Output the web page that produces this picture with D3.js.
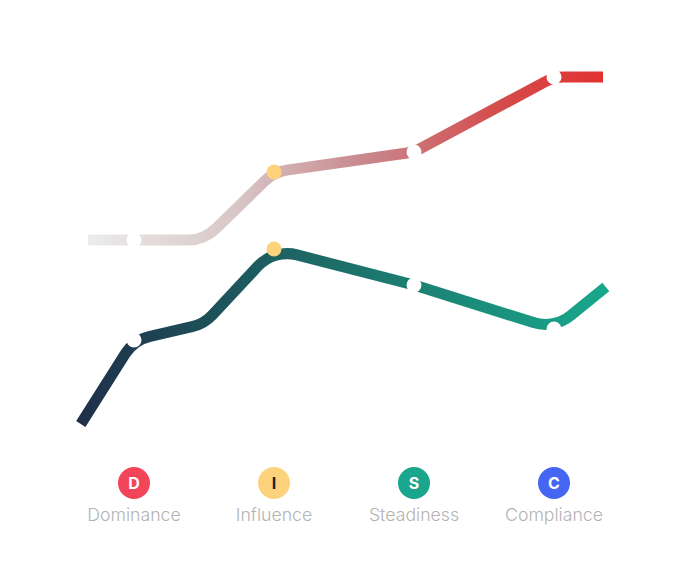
<!DOCTYPE html>
<html>
<head>
<meta charset="utf-8">
<script src="https://cdn.jsdelivr.net/npm/d3@7"></script>
<style>
  body { margin: 0; background: #fff; }
  svg { display: block; font-family: Inter, "Noto Sans", sans-serif; }
</style>
</head>
<body>
<div id="disc_chart"></div>
<script>
const width = 688, height = 567;

// categories + legend
const categories = ["Dominance", "Influence", "Steadiness", "Compliance"];
const letters = ["D", "I", "S", "C"];
const badgeColors = ["#f2455a", "#fdd27c", "#1aa68c", "#4466f2"];
const letterColors = ["#fff", "#222", "#fff", "#fff"];

// x positions along the stage axis (1 = D ... 4 = C), incl. lead-in / lead-out
const upperX = [0.67, 1, 1.5, 2, 3, 4, 4.35];
const upperY = [50, 50, 50, 67, 72, 90.75, 90.75];
const lowerX = [0.62, 1, 1.5, 2, 3, 4, 4.37];
const lowerY = [4, 25, 29, 47.75, 38.75, 27.75, 38.25];
// which points get a marker (index into the arrays above)
const markerIdx = [1, 3, 4, 5];

const svg = d3.select("#disc_chart")
    .append("svg")
    .attr("width", width)
    .attr("height", height);

const x = d3.scaleLinear().domain([1, 4]).range([134, 554]);
const y = d3.scaleLinear().domain([0, 100]).range([440, 40]);

// gradients
const defs = svg.append("defs");
function grad(id, stops) {
    const g = defs.append("linearGradient")
        .attr("id", id)
        .attr("gradientUnits", "userSpaceOnUse")
        .attr("x1", x(0.6)).attr("x2", x(4.4))
        .attr("y1", 0).attr("y2", 0);
    stops.forEach(s => g.append("stop").attr("offset", s[0]).attr("stop-color", s[1]));
}
grad("g_upper", [[0, "#eeeeee"], [0.3, "#d8c6c6"], [0.55, "#c8858a"], [0.8, "#d54a4a"], [1, "#e2302f"]]);
grad("g_lower", [[0, "#1f2f48"], [0.38, "#1d6262"], [0.65, "#1c8274"], [1, "#19a88b"]]);

// polyline with rounded corners
function roundedPath(xs, ys, r) {
    const pts = xs.map((v, i) => [x(v), y(ys[i])]);
    const p = d3.path();
    p.moveTo(pts[0][0], pts[0][1]);
    for (let i = 1; i < pts.length - 1; i++) {
        p.arcTo(pts[i][0], pts[i][1], pts[i + 1][0], pts[i + 1][1], r);
    }
    const last = pts[pts.length - 1];
    p.lineTo(last[0], last[1]);
    return p.toString();
}

svg.append("path")
    .attr("d", roundedPath(upperX, upperY, 40))
    .attr("fill", "none")
    .attr("stroke", "url(#g_upper)")
    .attr("stroke-width", 11);

svg.append("path")
    .attr("d", roundedPath(lowerX, lowerY, 40))
    .attr("fill", "none")
    .attr("stroke", "url(#g_lower)")
    .attr("stroke-width", 11);

// markers
[[upperX, upperY], [lowerX, lowerY]].forEach(function(line) {
    svg.selectAll(null)
        .data(markerIdx)
        .join("circle")
        .attr("cx", i => x(line[0][i]))
        .attr("cy", i => y(line[1][i]))
        .attr("r", 7.5)
        .attr("fill", i => i === 3 ? "#fdd27c" : "#fff");
});

// legend
const leg = svg.selectAll("g.leg")
    .data(categories)
    .join("g")
    .attr("class", "leg")
    .attr("transform", (d, i) => `translate(${x(i + 1)},0)`);

leg.append("circle")
    .attr("cy", 483)
    .attr("r", 16)
    .attr("fill", (d, i) => badgeColors[i]);

leg.append("text")
    .attr("y", 489)
    .attr("text-anchor", "middle")
    .style("font-size", "16px")
    .style("font-weight", "700")
    .attr("fill", (d, i) => letterColors[i])
    .text((d, i) => letters[i]);

leg.append("text")
    .attr("y", 521)
    .attr("text-anchor", "middle")
    .style("font-size", "17.7px")
    .style("font-weight", "300")
    .attr("fill", "#b3b3b3")
    .text(d => d);
</script>
</body>
</html>
